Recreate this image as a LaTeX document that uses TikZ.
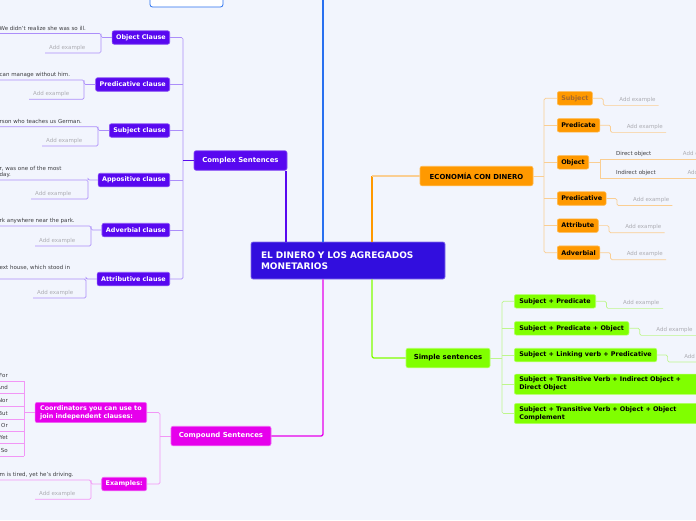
\documentclass[tikz,border=0pt]{standalone}
\usepackage{fontspec}
\setmainfont{DejaVu Sans}
\usetikzlibrary{positioning,calc}

\definecolor{fundo}{RGB}{242,245,253}
\definecolor{raizcor}{RGB}{50,14,222}
\definecolor{roxo}{RGB}{88,8,240}
\definecolor{roxoclaro}{RGB}{172,142,250}
\definecolor{rosa}{RGB}{230,0,236}
\definecolor{rosaclaro}{RGB}{242,150,246}
\definecolor{laranja}{RGB}{255,153,0}
\definecolor{laranjaclaro}{RGB}{250,206,146}
\definecolor{verde}{RGB}{128,255,0}
\definecolor{verdeclaro}{RGB}{190,246,140}
\definecolor{azul}{RGB}{40,112,240}
\definecolor{cinza}{RGB}{172,172,178}
\definecolor{escuro}{RGB}{60,60,64}
\definecolor{marrom}{RGB}{165,105,45}

\tikzset{
  raiz/.style={rectangle, rounded corners=2pt, fill=raizcor, draw=raizcor!60!white, line width=0.6pt,
    text=white, font=\bfseries\fontsize{9}{11}\selectfont, align=left, text width=174pt,
    inner xsep=10pt, inner ysep=0pt, minimum height=37pt},
  ramo/.style={rectangle, rounded corners=2pt, line width=0.6pt, font=\bfseries\fontsize{6.9}{8}\selectfont,
    minimum height=19.5pt, inner sep=0pt},
  folha/.style={rectangle, rounded corners=2pt, line width=0.6pt, font=\bfseries\fontsize{6.4}{8}\selectfont,
    minimum height=13.5pt, inner xsep=4pt, inner ysep=0pt},
  exemplo/.style={font=\fontsize{5.5}{6.5}\selectfont, text=escuro, inner sep=0pt},
  vazio/.style={font=\fontsize{5.5}{6.5}\selectfont, text=cinza, inner sep=0pt},
  liga/.style={line width=0.7pt, rounded corners=1.5pt},
  tronco/.style={line width=1.3pt, rounded corners=2pt},
}

\begin{document}
\begin{tikzpicture}[x=1pt, y=-1pt]
    % Fundo e recorte da figura
    \fill[fundo] (0,0) rectangle (696,520);
    \clip (0,0) rectangle (696,520);

    % Caixa cortada no topo
    \node[draw=azul, fill=white, rounded corners=2.5pt, line width=0.8pt, minimum width=73pt, minimum height=20pt] (topo) at (186.5,-3) {};

    % Nó central
    \node[raiz] (dinero) at (348,260.5) {EL DINERO Y LOS AGREGADOS\\MONETARIOS};

    % Ramos principais
    \node[ramo, fill=roxo, draw=roxo!70!white, text=white, minimum width=93pt] (complex) at (240.5,160.5) {Complex Sentences};
    \node[ramo, fill=laranja, draw=laranja!70!white, minimum width=113pt] (economia) at (476.5,176) {ECONOMÍA CON DINERO};
    \node[ramo, fill=verde, draw=verde!60!white, minimum width=84pt] (simple) at (448,358) {Simple sentences};
    \node[ramo, fill=rosa, draw=rosa!60!white, text=white, minimum width=100pt] (compound) at (221,436) {Compound Sentences};

    % Ligações ao nó central
    \coordinate (azulx) at (323,0);
    \draw[tronco, azul] (azulx) -- (azulx |- dinero.north);
    \draw[tronco, roxo] (complex.south -| 286,0) -- (dinero.north -| 286,0);
    \draw[tronco, laranja] (dinero.north -| 372,0) -- (372,176);
    \draw[tronco, laranjaclaro] (372,176) -- (economia.west);
    \draw[tronco, verde] (dinero.south -| 372,0) |- (simple.west);
    \draw[tronco, rosa] (dinero.south -| 323,0) |- (compound.east);

    % Orações subordinadas (roxo)
    \foreach \n/\t/\y in {ocl/Object Clause/37.5, pcl/Predicative clause/84.5, scl/Subject clause/130.5,
                          apcl/Appositive clause/180, avcl/Adverbial clause/230, atcl/Attributive clause/279}
      \node[folha, fill=roxo, draw=roxo!70!white, text=white, anchor=east] (\n) at (170,\y) {\t};

    \draw[liga, roxoclaro] (ocl.east) -| (183,160.5) |- (atcl.east);
    \foreach \n in {pcl,scl,apcl,avcl}
      \draw[liga, roxoclaro] (\n.east) -- (\n.east -| 183,0);
    \draw[liga, roxo] (complex.west) -- (183,160.5);

    \foreach \n/\xb/\yt/\yb/\xs in {ocl/101/33.5/53/45, pcl/84/80/99.3/29, scl/98/126.7/146/42,
                                    apcl/88/180/199/31, avcl/91/226/246/35, atcl/86/279/298/33} {
      \draw[liga, roxoclaro] (-2,\yt) -| (\xb,\yb) -- (\xs,\yb);
      \draw[liga, roxoclaro] (\n.west) -| (\xb,\yt);
      \node[vazio, anchor=base west] (add\n) at (\xs+4,\yb-4) {Add example};
    }

    % Exemplos cortados à esquerda
    \node[exemplo, anchor=base west] (txocl) at (-0.5,30) {We didn't realize she was so ill.};
    \node[exemplo, anchor=base west] (txpcl) at (-0.5,76.5) {can manage without him.};
    \node[exemplo, anchor=base west] (txscl) at (-0.5,123.2) {rson who teaches us German.};
    \node[exemplo, anchor=south west, align=left] (txapcl) at (-0.5,178) {r, was one of the most\\day.};
    \node[exemplo, anchor=base west] (txavcl) at (-0.5,222.5) {rk anywhere near the park.};
    \node[exemplo, anchor=base west] (txatcl) at (-0.5,269.5) {ext house, which stood in};

    % Elementos da oração (laranja)
    \node[folha, fill=laranja, draw=laranja!70!white, text=marrom, anchor=west] (suj) at (557,98.3) {Subject};
    \foreach \n/\t/\y in {pre/Predicate/125.3, obj/Object/162.3, pva/Predicative/198.5,
                          atr/Attribute/225.6, adv/Adverbial/252.7}
      \node[folha, fill=laranja, draw=laranja!70!white, anchor=west] (\n) at (557,\y) {\t};

    \draw[liga, laranjaclaro] (economia.east) -- (544,176);
    \draw[liga, laranjaclaro] (suj.west) -| (544,176) |- (adv.west);
    \foreach \n in {pre,obj,pva,atr}
      \draw[liga, laranjaclaro] (\n.west) -- (\n.west -| 544,0);

    \foreach \n in {suj,pre,pva,atr,adv} {
      \draw[liga, laranjaclaro] (\n.east) -- ++(10.5,0) |- ($(\n.south east)+(66,0)$);
      \node[vazio, anchor=base west] (add\n) at ($(\n.south east)+(26.5,-4)$) {Add example};
    }

    % Objeto direto e indireto
    \coordinate (dobj) at (600,159);
    \coordinate (iobj) at (600,178);
    \draw[liga, laranjaclaro] (obj.east) -- (obj.east -| dobj);
    \draw[liga, laranjaclaro] (dobj) -- (iobj);
    \draw[liga, laranjaclaro] (dobj) -- ++(100,0);
    \draw[liga, laranjaclaro] (iobj) -- ++(100,0);
    \node[exemplo, anchor=base west] (dtxt) at ($(dobj)+(16,-4)$) {Direct object};
    \node[exemplo, anchor=base west] (itxt) at ($(iobj)+(16,-4)$) {Indirect object};
    \node[vazio, anchor=base west] (adddobj) at (682.7,155) {Add example};
    \node[vazio, anchor=base west] (addiobj) at (687.3,174) {Add example};

    % Tipos de oração simples (verde)
    \foreach \n/\t/\y in {s1/Subject + Predicate/301.3, s2/Subject + Predicate + Object/328.3,
                          s3/Subject + Linking verb + Predicative/355}
      \node[folha, fill=verde, draw=verde!60!white, anchor=west, inner xsep=5pt] (\n) at (514,\y) {\t};
    \node[folha, fill=verde, draw=verde!60!white, anchor=west, inner xsep=5pt, inner ysep=3pt,
          align=left, text width=190pt] (s4) at (514,384.2) {Subject + Transitive Verb + Indirect Object +\\Direct Object};
    \node[folha, fill=verde, draw=verde!60!white, anchor=west, inner xsep=5pt, inner ysep=3pt,
          align=left, text width=190pt] (s5) at (514,413.5) {Subject + Transitive Verb + Object + Object\\Complement};

    \draw[liga, verdeclaro] (simple.east) -- (502,358);
    \draw[liga, verdeclaro] (s1.west) -| (502,358) |- (s5.west);
    \foreach \n in {s2,s3,s4}
      \draw[liga, verdeclaro] (\n.west) -- (\n.west -| 502,0);

    \foreach \n in {s1,s2,s3} {
      \draw[liga, verdeclaro] (\n.east) -- ++(10.5,0) |- ($(\n.south east)+(67,0)$);
      \node[vazio, anchor=base west] (add\n) at ($(\n.south east)+(27,-4)$) {Add example};
    }

    % Orações coordenadas (rosa)
    \node[folha, fill=rosa, draw=rosa!60!white, text=white, anchor=east, inner xsep=5pt, inner ysep=3pt,
          align=left] (coord) at (147,412.5) {Coordinators you can use to\\join independent clauses:};
    \node[folha, fill=rosa, draw=rosa!60!white, text=white, anchor=east] (exs) at (147,484) {Examples:};

    \draw[liga, rosaclaro] (coord.east) -| (160,436) |- (exs.east);
    \draw[liga, rosaclaro] (compound.west) -- (160,436);

    \foreach \t/\y [count=\i] in {For/381.3, And/393.7, Nor/406.3, But/419, Or/431.3, Yet/443.7, So/456.3} {
      \draw[liga, rosaclaro] (-2,\y) -- (24,\y);
      \node[exemplo, anchor=base east] (co\i) at (8,\y-4) {\t};
    }
    \draw[liga, rosaclaro] (24,381.3) -- (24,456.3);
    \draw[liga, rosaclaro] (coord.west) -- (coord.west -| 24,0);

    \draw[liga, rosaclaro] (-2,480) -| (91,499.3) -- (35,499.3);
    \draw[liga, rosaclaro] (exs.west) -| (91,480);
    \node[exemplo, anchor=base west] (txexs) at (-0.5,476.5) {m is tired, yet he's driving.};
    \node[vazio, anchor=base west] (addexs) at (39,495.3) {Add example};
\end{tikzpicture}
\end{document}
